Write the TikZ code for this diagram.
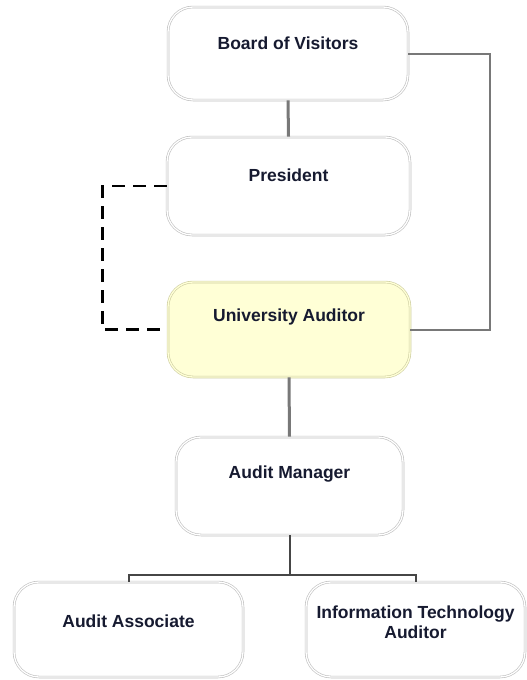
\documentclass[tikz,border=0pt]{standalone}
\usepackage{fontspec}
\setmainfont{Liberation Sans}
\definecolor{txt}{RGB}{22,26,48}
\definecolor{boxline}{RGB}{190,190,190}
\definecolor{uafill}{RGB}{255,255,214}
\definecolor{ualine}{RGB}{205,205,160}
\definecolor{conn}{RGB}{120,120,120}
\definecolor{darkconn}{RGB}{70,70,70}
\begin{document}
\begin{tikzpicture}[x=1pt,y=-1pt,
  orgbox/.style={draw=boxline, double=white, double distance=1.3pt, line width=0.6pt,
    rounded corners=25pt, inner sep=0pt, fill=white},
  lbl/.style={text=txt, font=\fontsize{17.5}{20.5}\selectfont\bfseries, align=center, inner sep=0pt},
  thickconn/.style={conn, line width=3pt},
  sideconn/.style={conn, line width=2pt},
  dashconn/.style={black, line width=2.8pt, dash pattern=on 13pt off 8pt},
  lowconn/.style={darkconn, line width=2pt}]
\useasboundingbox (0,0) rectangle (527,680);

\node[orgbox, minimum width=240pt, minimum height=93pt] (bov) at (288,53.5) {};
\node[lbl] (bovt) at (288,43) {Board of Visitors};

\node[orgbox, minimum width=243pt, minimum height=98pt] (pres) at (288.5,186) {};
\node[lbl] (prest) at (288.5,175) {President};

\node[orgbox, draw=ualine, double=uafill, fill=uafill, minimum width=242pt, minimum height=95pt] (ua) at (289,329.5) {};
\node[lbl] (uat) at (289,317) {University Auditor};

\node[orgbox, minimum width=227pt, minimum height=98pt] (am) at (289.5,486) {};
\node[lbl] (amt) at (289.5,474) {Audit Manager};

\node[orgbox, minimum width=229pt, minimum height=95pt] (aa) at (128.5,629.5) {};
\node[lbl] (aat) at (128.5,621) {Audit Associate};

\node[orgbox, minimum width=219pt, minimum height=95pt] (it) at (415.5,629.5) {};
\node[lbl] (itt) at (415.5,622) {Information Technology\\Auditor};

% connectors
\draw[thickconn] (bov.south) -- (pres.north);
\draw[sideconn] (bov.east) -- ++(82,0) |- (ua.east);
\draw[dashconn] (pres.west) -- ++(-64,0) |- (ua.west);
\draw[thickconn] (ua.south) -- (am.north);
\draw[lowconn] (am.south) -- ++(0,40) coordinate (j);
\draw[lowconn] (j) -| (aa.north);
\draw[lowconn] (j) -| (it.north);
\end{tikzpicture}
\end{document}
